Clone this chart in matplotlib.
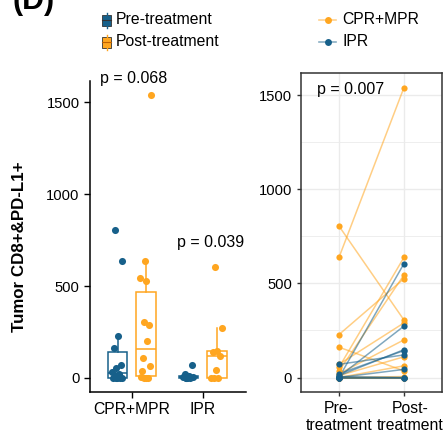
import numpy as np
import matplotlib
matplotlib.use('Agg')
import matplotlib.pyplot as plt
import matplotlib.transforms as mtransforms
from matplotlib.patches import Rectangle

plt.rcParams['font.family'] = ['Liberation Sans', 'DejaVu Sans']

# ---------------- data ----------------
groups = ['CPR+MPR', 'IPR']
timepoints = ['Pre-\ntreatment', 'Post-\ntreatment']
time_legend = ['Pre-treatment', 'Post-treatment']
cpr_pre = [804, 638, 228, 161, 70, 54, 34, 20, 10, 0, 0, 0, 0, 0]
cpr_post = [305, 1540, 525, 35, 290, 638, 545, 200, 110, 62, 0, 5, 0, 0]
ipr_pre = [0, 5, 10, 20, 70, 0, 5, 0, 0]
ipr_post = [605, 273, 148, 143, 120, 43, 0, 0, 0]
p_box = ['p = 0.068', 'p = 0.039']
p_paired = 'p = 0.007'
ylabel = 'Tumor CD8+&PD-L1+'
panel_tag = '(D)'

BLUE = '#17608A'
ORANGE = '#FFA620'

W, H = 446, 438
fig = plt.figure(figsize=(W / 100, H / 100), dpi=100)


def rect(x0, y0, x1, y1):
    return [x0 / W, 1 - y1 / H, (x1 - x0) / W, (y1 - y0) / H]


ax1 = fig.add_axes(rect(90, 81, 246, 392))
ax2 = fig.add_axes(rect(301, 73, 442, 392))

ylim = (-77, 1617)

# ---------------- left: boxplots ----------------
pre_data = [cpr_pre, ipr_pre]
post_data = [cpr_post, ipr_post]
centers = np.array([1, 2])
off = 0.2
bw = 0.27
for data, sign, col in [(pre_data, -1, BLUE), (post_data, 1, ORANGE)]:
    pos = centers + sign * off
    ax1.boxplot(data, positions=pos, widths=bw, showfliers=False, showcaps=False,
                whis=1.5, patch_artist=True,
                boxprops=dict(facecolor='white', edgecolor=col, linewidth=1.1),
                medianprops=dict(color=col, linewidth=1.1),
                whiskerprops=dict(color=col, linewidth=1.1))
    for p, vals in zip(pos, data):
        n = len(vals)
        jit = ((np.arange(n) * 0.618 + 0.3) % 1 - 0.5) * 0.16
        ax1.scatter(p + jit, vals, s=26, color=col, zorder=3, linewidths=0)

ax1.set_xlim(0.41, 2.61)
ax1.set_ylim(*ylim)
ax1.set_xticks(centers)
ax1.set_xticklabels(groups, fontsize=11.3)
ax1.set_yticks([0, 500, 1000, 1500])
ax1.tick_params(axis='y', labelsize=10.6, length=4, width=1, colors='black')
ax1.tick_params(axis='x', length=4, width=1, colors='black', pad=3)
for s in ['top', 'right']:
    ax1.spines[s].set_visible(False)
for s in ['left', 'bottom']:
    ax1.spines[s].set_linewidth(1.1)
ax1.text(0.55, 1630, p_box[0], fontsize=11.5, va='center', ha='left', clip_on=False)
ax1.text(1.63, 739, p_box[1], fontsize=11.5, va='center', ha='left', clip_on=False)

# ---------------- right: paired lines ----------------
for pre, post, col in [(cpr_pre, cpr_post, ORANGE), (ipr_pre, ipr_post, BLUE)]:
    for a, b in zip(pre, post):
        ax2.plot([1, 2], [a, b], color=col, alpha=0.55, lw=1.1, zorder=2)
for pre, post, col in [(cpr_pre, cpr_post, ORANGE), (ipr_pre, ipr_post, BLUE)]:
    ax2.scatter(np.ones(len(pre)), pre, s=20, color=col, zorder=3, linewidths=0)
    ax2.scatter(np.full(len(post), 2), post, s=20, color=col, zorder=3, linewidths=0)

ax2.set_xlim(0.415, 2.585)
ax2.set_ylim(*ylim)
ax2.set_xticks([1, 2])
ax2.set_xticklabels(timepoints, fontsize=11.3, linespacing=1.2)
ax2.set_yticks([0, 500, 1000, 1500])
ax2.set_yticks([250, 750, 1250], minor=True)
ax2.grid(which='major', color='#EBEBEB', lw=1.0, zorder=0)
ax2.grid(which='minor', axis='y', color='#EBEBEB', lw=0.6, zorder=0)
ax2.set_axisbelow(True)
ax2.tick_params(axis='both', which='major', length=3, width=1, color='#333333',
                labelcolor='black')
ax2.tick_params(axis='y', labelsize=10.6)
ax2.tick_params(axis='y', which='minor', length=0)
for s in ax2.spines.values():
    s.set_color('#333333')
    s.set_linewidth(1.1)
# shift the second label a little right, as in the reference
lbl = ax2.get_xticklabels()[1]
lbl.set_transform(lbl.get_transform() +
                  mtransforms.ScaledTranslation(6 / 100, 0, fig.dpi_scale_trans))
ax2.text(0.66, 1532, p_paired, fontsize=11.5, va='center', ha='left')

# ---------------- figure texts ----------------
fig.text(20 / W, 1 - 247 / H, ylabel, rotation=90, fontsize=12.2, fontweight='bold',
         ha='center', va='center')
fig.text(13 / W, 1 - 9 / H, panel_tag, fontsize=22, fontweight='bold',
         ha='left', va='baseline')

# ---------------- legends (overlay) ----------------
lg = fig.add_axes([0, 0, 1, 1])
lg.set_xlim(0, W)
lg.set_ylim(H, 0)
lg.axis('off')
for yc, col, lab in [(20, BLUE, time_legend[0]), (42, ORANGE, time_legend[1])]:
    lg.plot([106.5, 106.5], [yc - 7.5, yc + 7.5], color=col, lw=1)
    lg.add_patch(Rectangle((102, yc - 5.5), 9, 11, facecolor=col, edgecolor='#333333',
                           lw=0.6))
    lg.plot([102, 111], [yc, yc], color='#333333' if col == BLUE else '#C06000', lw=0.8)
    lg.text(116, yc, lab, fontsize=11.3, va='center', ha='left')
for yc, col, lab in [(20, ORANGE, groups[0]), (42, BLUE, groups[1])]:
    lg.plot([319, 336], [yc, yc], color=col, alpha=0.5, lw=1.2)
    lg.plot([327.5], [yc], 'o', color=col, ms=5, mec='none')
    lg.text(342, yc, lab, fontsize=11.3, va='center', ha='left')

fig.savefig('out.png', dpi=100)
